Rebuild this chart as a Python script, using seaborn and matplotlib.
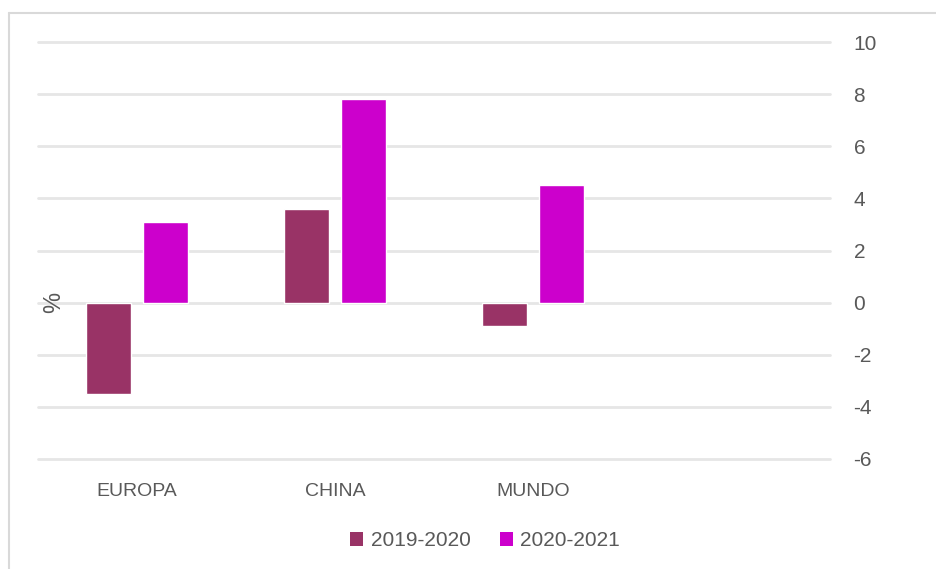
import matplotlib
matplotlib.use("Agg")
import matplotlib.pyplot as plt
import seaborn as sns
import pandas as pd
from matplotlib.lines import Line2D
from matplotlib.patches import Patch

# Growth rates by region (%)
regions = ["EUROPA", "CHINA", "MUNDO"]
periods = ["2019-2020", "2020-2021"]
growth_2019_2020 = [-3.5, 3.6, -0.9]
growth_2020_2021 = [3.1, 7.8, 4.5]
y_ticks = [10, 8, 6, 4, 2, 0, -2, -4, -6]

colors = ["#993366", "#CC00CC"]
text_color = "#595959"
grid_color = "#E6E6E6"

df = pd.DataFrame({
    "region": regions * 2,
    "period": [periods[0]] * 3 + [periods[1]] * 3,
    "value": growth_2019_2020 + growth_2020_2021,
})

sns.set_theme(style="white")
plt.rcParams["font.family"] = ["Liberation Sans", "DejaVu Sans"]
plt.rcParams["axes.unicode_minus"] = False

fig = plt.figure(figsize=(9.37, 5.69), dpi=100)
ax = fig.add_axes([38 / 937, 1 - 459 / 569, (830 - 38) / 937, (459 - 42) / 569])

order = regions + [" "]
sns.barplot(data=df, x="region", y="value", hue="period", order=order,
            hue_order=periods, palette=colors, width=0.58, gap=0.21,
            saturation=1, legend=False, ax=ax, zorder=3)

ax.set_xlim(-0.5, 3.5)
ax.set_ylim(min(y_ticks), max(y_ticks))
ax.set_yticks(y_ticks)
ax.set_yticklabels([str(t) for t in y_ticks])
ax.yaxis.tick_right()
ax.grid(axis="y", color=grid_color, linewidth=2, zorder=0)
ax.grid(axis="x", visible=False)
for line in ax.get_ygridlines():
    line.set_clip_on(False)
for s in ax.spines.values():
    s.set_visible(False)
ax.tick_params(axis="y", length=0, pad=17, labelsize=15, labelcolor=text_color)
ax.tick_params(axis="x", length=0, pad=17, labelsize=14, labelcolor=text_color)
ax.set_xlabel("")
ax.set_ylabel("")

# Unit label on the left
fig.text(54 / 937, 1 - 302 / 569, "%", rotation=90, ha="center", va="center",
         fontsize=17, color=text_color)

handles = [Patch(facecolor=c, edgecolor="none") for c in colors]
fig.legend(handles, periods, loc="center", bbox_to_anchor=(485 / 937, 1 - 541 / 569),
           ncol=2, frameon=False, fontsize=15, labelcolor=text_color,
           handlelength=0.62, handleheight=0.62, handletextpad=0.35, columnspacing=1.4)

# Chart frame (left and top edges)
fig.add_artist(Line2D([9 / 937, 9 / 937], [0, 1 - 13 / 569], transform=fig.transFigure,
                      color="#D9D9D9", linewidth=1.5))
fig.add_artist(Line2D([9 / 937, 1], [1 - 13 / 569, 1 - 13 / 569], transform=fig.transFigure,
                      color="#D9D9D9", linewidth=1.5))

fig.savefig("out.png", dpi=100)
